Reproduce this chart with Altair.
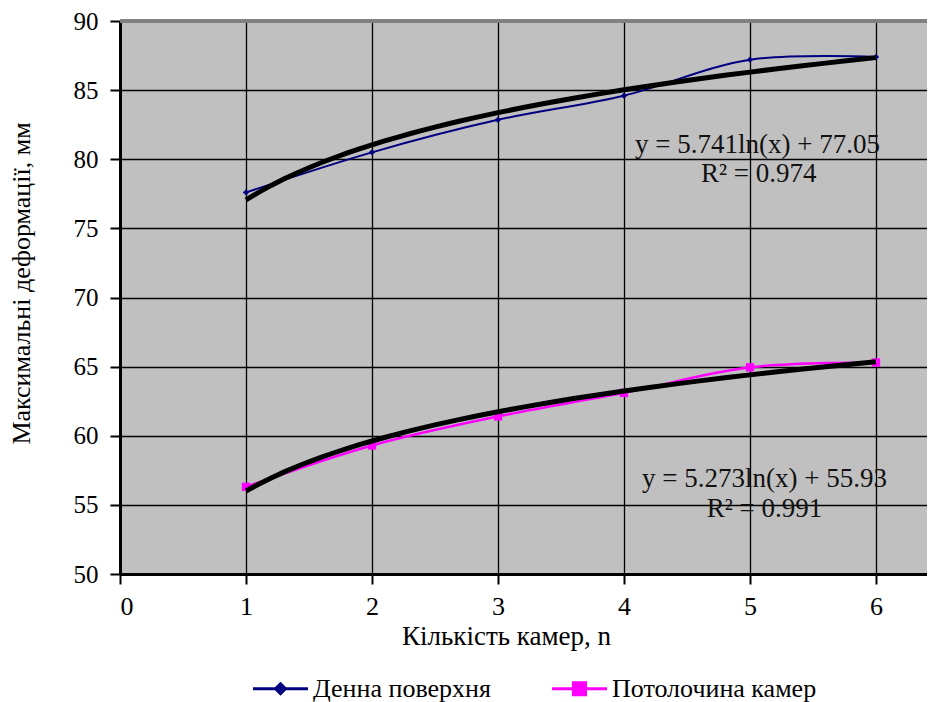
import altair as alt
import pandas as pd

# ---- data ----
n_values = [1, 2, 3, 4, 5, 6]
surface = [77.6, 80.5, 82.85, 84.6, 87.2, 87.4]      # Денна поверхня
ceiling = [56.3, 59.3, 61.4, 63.1, 64.95, 65.3]       # Потолочина камер
series_names = ["Денна поверхня", "Потолочина камер"]
series_colors = ["#000080", "#FF00FF"]
eq_text = ["y = 5.741ln(x) + 77.05", "R² = 0.974", "y = 5.273ln(x) + 55.93", "R² = 0.991"]
eq_x = [5.06, 5.07, 5.115, 5.115]
eq_y = [81.05, 78.95, 56.88, 54.73]

FONT = "Liberation Serif"

df = pd.DataFrame({
    "n": n_values * 2,
    "v": surface + ceiling,
    "series": [series_names[0]] * 6 + [series_names[1]] * 6,
})
eq_df = pd.DataFrame({"x": eq_x, "y": eq_y, "t": eq_text})

xscale = alt.Scale(domain=[0, 6.405], nice=False, zero=False)
yscale = alt.Scale(domain=[50, 90], nice=False, zero=False)

xax = alt.Axis(values=[0, 1, 2, 3, 4, 5, 6], title="Кількість камер, n", format="d",
               grid=True, gridColor="black", gridWidth=1.3, domainColor="black", domainWidth=3,
               tickColor="black", tickWidth=2, tickSize=10, labelPadding=9,
               labelFont=FONT, labelFontSize=26, labelColor="black",
               titleFont=FONT, titleFontSize=27, titleFontWeight="normal", titleColor="black",
               titleX=386, titleY=62, titleBaseline="middle", titleAlign="center")
yax = alt.Axis(values=[50, 55, 60, 65, 70, 75, 80, 85, 90], title="Максимальні деформації, мм",
               grid=True, gridColor="black", gridWidth=1.3, domainColor="black", domainWidth=3,
               tickColor="black", tickWidth=2, tickSize=10, labelPadding=12,
               labelFont=FONT, labelFontSize=25, labelColor="black",
               titleFont=FONT, titleFontSize=26, titleFontWeight="normal", titleColor="black",
               titleX=-99, titleY=262, titleBaseline="middle", titleAngle=270, titleAlign="center")

base = alt.Chart(df)

# axes carrier
axes = base.mark_point(opacity=0).encode(
    x=alt.X("n:Q", scale=xscale, axis=xax),
    y=alt.Y("v:Q", scale=yscale, axis=yax),
)

def series_layer(name, color, shape, size, width):
    d = base.transform_filter(alt.datum.series == name)
    line = d.mark_line(color=color, strokeWidth=width, interpolate="catmull-rom").encode(
        x="n:Q", y="v:Q")
    pts = d.mark_point(color=color, filled=True, shape=shape, size=size, opacity=1).encode(
        x="n:Q", y="v:Q")
    return line + pts

s1 = series_layer(series_names[0], series_colors[0], "diamond", 40, 2)
s2 = series_layer(series_names[1], series_colors[1], "square", 70, 2.5)

trend = base.transform_regression("n", "v", groupby=["series"], method="log",
                                  extent=[1, 6]).mark_line(color="black", strokeWidth=5).encode(
    x="n:Q", y="v:Q", detail="series:N")

top_border = alt.Chart(df).mark_rule(color="#808080", strokeWidth=2.5).encode(
    y=alt.datum(90))

legend_paths = ["M-2,0H2M0,-0.36L0.36,0L0,0.36L-0.36,0Z",
                "M-2,0H2M-0.44,-0.44H0.44V0.44H-0.44Z"]
leg_scale_dom = alt.Scale(domain=series_names, range=series_colors)
LEG = dict(title=None, orient="none", direction="horizontal", legendX=145, legendY=652)
legend_layer = base.transform_filter("false").mark_point(filled=True, opacity=1).encode(
    x="n:Q", y="v:Q",
    fill=alt.Fill("series:N", scale=leg_scale_dom, legend=alt.Legend(**LEG)),
    stroke=alt.Stroke("series:N", scale=leg_scale_dom, legend=alt.Legend(**LEG)),
    shape=alt.Shape("series:N", scale=alt.Scale(domain=series_names, range=legend_paths),
                    legend=alt.Legend(**LEG)),
)

text = alt.Chart(eq_df).mark_text(font=FONT, fontSize=27, color="#111111").encode(
    x="x:Q", y="y:Q", text="t:N")

chart = alt.layer(axes, s1, s2, trend, top_border, text, legend_layer).properties(
    width=807, height=553,
    autosize=alt.AutoSizeParams(type="none"),
    padding={"left": 112, "top": 13, "right": 0, "bottom": 128},
).configure_view(
    fill="#C0C0C0", stroke=None
).configure_legend(
    labelFont=FONT, labelFontSize=26, labelColor="black", symbolSize=756,
    symbolStrokeWidth=3, labelOffset=17, columnPadding=55, padding=0, labelLimit=400
)

chart.save("out.html", embed_options={"renderer": "svg", "actions": False})
